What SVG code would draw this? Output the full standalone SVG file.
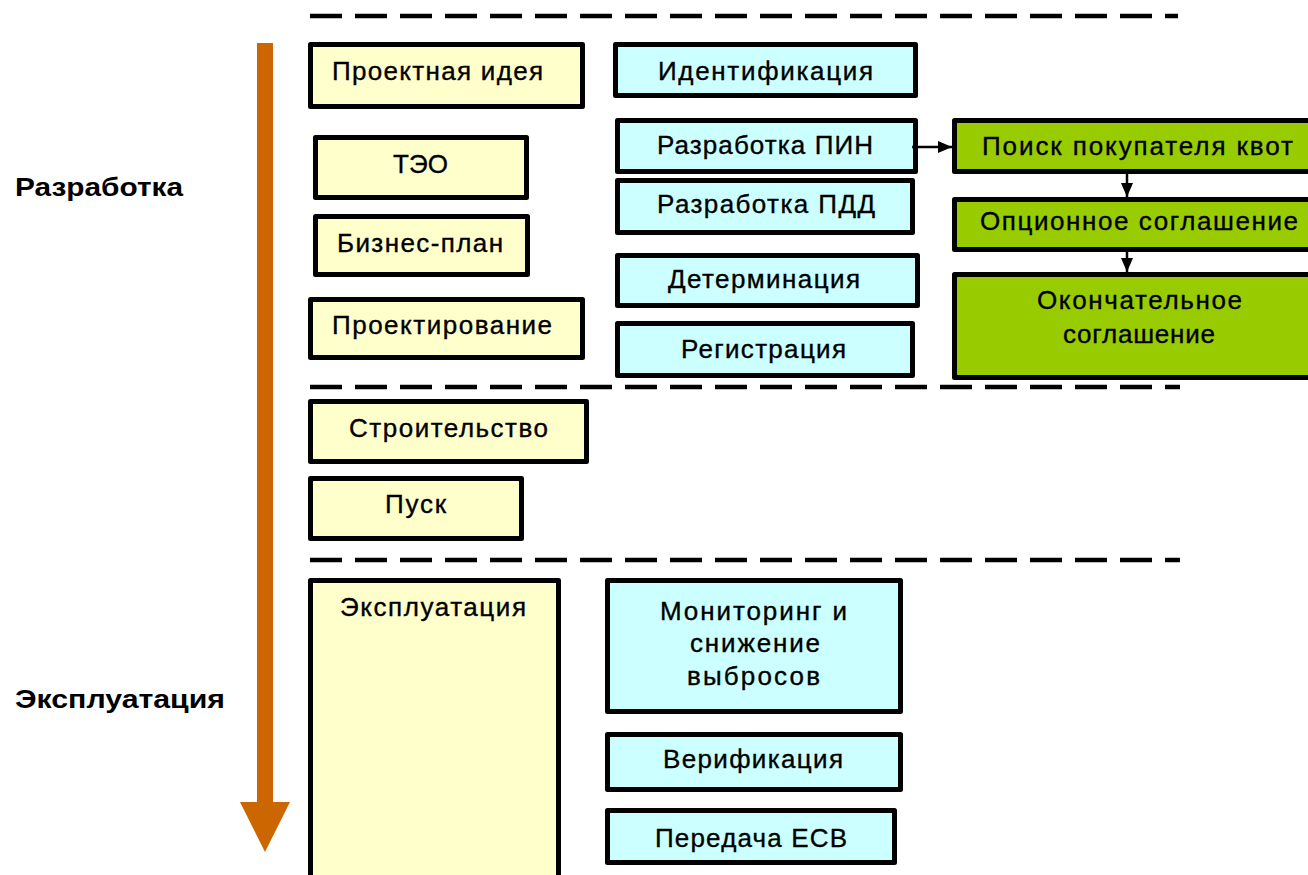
<svg xmlns="http://www.w3.org/2000/svg" width="1308" height="875" viewBox="0 0 1308 875">
<defs>
<style>
.box{stroke:#000;stroke-width:5;stroke-linejoin:round}
.y{fill:#FFFFCC}
.c{fill:#CCFFFF}
.g{fill:#99CC00}
.t{font-family:"Liberation Sans",Arial,sans-serif;font-size:26px;fill:#000;stroke:#000;stroke-width:0.35}
.lbl{font-family:"Liberation Sans",Arial,sans-serif;font-size:25px;font-weight:bold;fill:#000}
.dash{stroke:#000;stroke-width:4.5;stroke-dasharray:32 13;fill:none}
.con{stroke:#000;stroke-width:2.5;fill:none}
</style>
<marker id="ah" markerWidth="14" markerHeight="12" refX="14" refY="6" orient="auto" markerUnits="userSpaceOnUse">
<path d="M0,0 L14,6 L0,12 Z" fill="#000"/>
</marker>
</defs>
<rect width="1308" height="875" fill="#fff"/>

<g id="separators">
<line class="dash" x1="310" y1="16" x2="1178" y2="16"/>
<line class="dash" x1="310" y1="387" x2="1180" y2="387"/>
<line class="dash" x1="310" y1="560" x2="1180" y2="560"/>
</g>

<g id="timeline">
<rect x="257" y="43" width="16" height="760" fill="#CC6600"/>
<polygon points="240,802 290,802 265,852" fill="#CC6600"/>
</g>

<g id="phase-labels">
<text class="lbl" x="15" y="196" textLength="168" lengthAdjust="spacingAndGlyphs">Разработка</text>
<text class="lbl" x="15" y="708" textLength="210" lengthAdjust="spacingAndGlyphs">Эксплуатация</text>
</g>

<g id="n-idea"><rect class="box y" x="310.5" y="44.5" width="272" height="62"/><text class="t" x="332" y="80" textLength="211" lengthAdjust="spacing">Проектная идея</text></g>
<g id="n-teo"><rect class="box y" x="315.5" y="137.5" width="211" height="60"/><text class="t" x="393" y="173" textLength="55" lengthAdjust="spacing">ТЭО</text></g>
<g id="n-bplan"><rect class="box y" x="315.5" y="216.5" width="212" height="58"/><text class="t" x="337" y="252" textLength="166" lengthAdjust="spacing">Бизнес-план</text></g>
<g id="n-design"><rect class="box y" x="310.5" y="299.5" width="272" height="58"/><text class="t" x="332" y="334" textLength="220" lengthAdjust="spacing">Проектирование</text></g>
<g id="n-build"><rect class="box y" x="310.5" y="401.5" width="276" height="60"/><text class="t" x="349" y="437" textLength="199" lengthAdjust="spacing">Строительство</text></g>
<g id="n-start"><rect class="box y" x="310.5" y="478.5" width="211" height="60"/><text class="t" x="385" y="513" textLength="61" lengthAdjust="spacing">Пуск</text></g>
<g id="n-operation"><rect class="box y" x="310.5" y="580.5" width="248" height="305"/><text class="t" x="340" y="616" textLength="186" lengthAdjust="spacing">Эксплуатация</text></g>

<g id="n-ident"><rect class="box c" x="615.5" y="44.5" width="300" height="51"/><text class="t" x="658" y="80" textLength="215" lengthAdjust="spacing">Идентификация</text></g>
<g id="n-pin"><rect class="box c" x="617.5" y="120.5" width="298" height="51"/><text class="t" x="657" y="154" textLength="216" lengthAdjust="spacing">Разработка ПИН</text></g>
<g id="n-pdd"><rect class="box c" x="617.5" y="180.5" width="295" height="52"/><text class="t" x="657" y="213" textLength="218" lengthAdjust="spacing">Разработка ПДД</text></g>
<g id="n-determ"><rect class="box c" x="617.5" y="255.5" width="300" height="50"/><text class="t" x="668" y="288" textLength="192" lengthAdjust="spacing">Детерминация</text></g>
<g id="n-reg"><rect class="box c" x="617.5" y="323.5" width="295" height="52"/><text class="t" x="681" y="358" textLength="165" lengthAdjust="spacing">Регистрация</text></g>
<g id="n-monitor"><rect class="box c" x="607.5" y="580.5" width="293" height="131"/>
<text class="t" x="660" y="620" textLength="187" lengthAdjust="spacing">Мониторинг и</text>
<text class="t" x="690" y="652" textLength="130" lengthAdjust="spacing">снижение</text>
<text class="t" x="687" y="685" textLength="133" lengthAdjust="spacing">выбросов</text></g>
<g id="n-verif"><rect class="box c" x="607.5" y="734.5" width="293" height="55"/><text class="t" x="663" y="768" textLength="180" lengthAdjust="spacing">Верификация</text></g>
<g id="n-ecb"><rect class="box c" x="607.5" y="810.5" width="287" height="52"/><text class="t" x="655" y="847" textLength="192" lengthAdjust="spacing">Передача ЕСВ</text></g>

<g id="n-buyer"><rect class="box g" x="954.5" y="120.5" width="360" height="51"/><text class="t" x="982" y="155" textLength="311" lengthAdjust="spacing">Поиск покупателя квот</text></g>
<g id="n-option"><rect class="box g" x="954.5" y="199.5" width="360" height="50"/><text class="t" x="980" y="230" textLength="318" lengthAdjust="spacing">Опционное соглашение</text></g>
<g id="n-final"><rect class="box g" x="954.5" y="274.5" width="360" height="103"/>
<text class="t" x="1037" y="309" textLength="205" lengthAdjust="spacing">Окончательное</text>
<text class="t" x="1063" y="343" textLength="152" lengthAdjust="spacing">соглашение</text></g>

<g id="connectors">
<circle cx="914" cy="147" r="2" fill="#000"/>
<line class="con" x1="914" y1="147" x2="952" y2="147" marker-end="url(#ah)"/>
<line class="con" x1="1127" y1="174" x2="1127" y2="197" marker-end="url(#ah)"/>
<line class="con" x1="1127" y1="252" x2="1127" y2="272" marker-end="url(#ah)"/>
</g>
</svg>
